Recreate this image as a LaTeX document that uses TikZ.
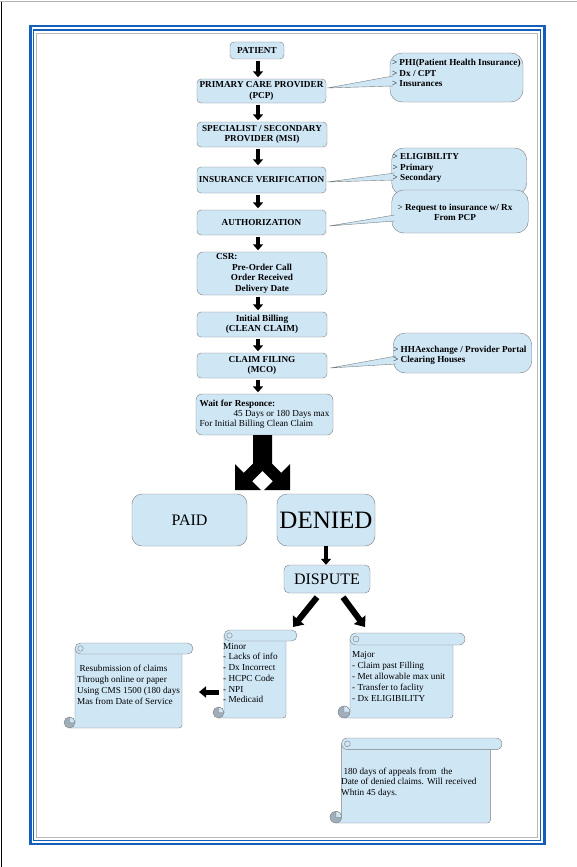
\documentclass[tikz,border=0pt]{standalone}
\usepackage{fontspec}
\setmainfont{Liberation Serif}
\usetikzlibrary{arrows.meta}

\definecolor{boxblue}{RGB}{207,230,245}
\definecolor{boxline}{RGB}{125,125,125}
\definecolor{curlgray}{RGB}{160,174,188}
\definecolor{frameblue}{RGB}{20,95,185}

%rolled sheet: x0, y0, x1, y1, half roll
\newcommand{\scrollpaper}[5]{%
	\filldraw[scrollbody] (#1+2*#5,#2+#5) -- (#3-2*#5,#2+#5) -- (#3-2*#5,#4-3) arc (0:90:3) -- (#1+#5,#4) -- (#1+#5,#4-#5) -- (#1+2*#5,#4-#5) -- cycle;
	\filldraw[scrollbody,rounded corners=#5pt] (#1+2*#5,#2) rectangle (#3,#2+2*#5);
	\draw[boxline] (#1+3*#5,#2+#5) circle (0.5*#5);
	\filldraw[scrollbody,fill=curlgray] (#1+#5,#4-#5) circle (#5);
	\draw[boxline,fill=boxblue] (#1+#5,#4-#5) -- (#1+2*#5,#4-#5) arc (0:-90:#5) -- cycle;
}

\begin{document}
\begin{tikzpicture}[x=1pt,y=-1pt,
	stepbox/.style={draw=boxline,fill=boxblue,rounded corners=4pt,inner sep=0pt,align=center,font=\fontsize{9.2}{10.5}\selectfont\bfseries},
	bigbox/.style={draw=boxline,fill=boxblue,rounded corners=10pt,inner sep=0pt},
	callbox/.style={draw=boxline,fill=boxblue,rounded corners=12pt,inner sep=0pt},
	calltext/.style={inner sep=0pt,align=left,font=\fontsize{9.2}{10.5}\selectfont\bfseries},
	calltail/.style={draw=boxline,fill=boxblue},
	scrollbody/.style={draw=boxline,fill=boxblue},
	scrolltext/.style={inner sep=0pt,align=left,font=\fontsize{9.2}{10.7}\selectfont},
	flowarrow/.style={line width=4.5pt,-{Triangle[width=10pt,length=6pt]},shorten <=1.5pt,shorten >=1.5pt},
	blockarrow/.style={line width=6pt,-{Triangle[width=14pt,length=9pt]}}]
	\useasboundingbox (0,0) rectangle (577,867);

	%page edge and frame
	\draw[gray!60,line width=1pt] (0,2)--(577,2);
	\draw[line width=1pt] (1,2)--(1,867);
	\draw[frameblue,line width=2.5pt] (30.5,26.2) rectangle (544.3,844);
	\draw[frameblue,line width=1.4pt] (33.3,30.2) rectangle (540.2,840.2);
	\draw[gray!55,line width=0.7pt] (36,33.3) rectangle (537.3,837.7);

	%main column
	\node[stepbox,minimum width=54,minimum height=17] (patient) at (257,50.5) {PATIENT};
	\node[stepbox,minimum width=129,minimum height=24] (pcp) at (261.5,91) {PRIMARY CARE PROVIDER\\(PCP)};
	\node[stepbox,minimum width=130,minimum height=25] (spec) at (262,134.5) {SPECIALIST / SECONDARY\\PROVIDER (MSI)};
	\node[stepbox,minimum width=129,minimum height=26] (insver) at (261.5,180) {INSURANCE VERIFICATION};
	\node[stepbox,minimum width=129,minimum height=25] (auth) at (261.5,222.5) {AUTHORIZATION};
	\node[stepbox,rounded corners=6pt,minimum width=130,minimum height=43] (csr) at (262,273.5) {\makebox[92pt][l]{CSR:}\\Pre-Order Call\\Order Received\\Delivery Date};
	\node[stepbox,minimum width=130,minimum height=25] (billing) at (262,324.5) {Initial Billing\\(CLEAN CLAIM)};
	\node[stepbox,minimum width=130,minimum height=25] (filing) at (262,365.5) {CLAIM FILING\\(MCO)};
	\node[stepbox,rounded corners=6pt,minimum width=137,minimum height=41,align=left,font=\fontsize{9.2}{10.2}\selectfont] (wait) at (264.5,414.5)
		{\textbf{Wait for Responce:}\\\hspace*{34pt}45 Days or 180 Days max\\For Initial Billing Clean Claim};

	\coordinate (col) at (258,0);
	\draw[flowarrow] (patient.south -| col)--(pcp.north -| col);
	\draw[flowarrow] (pcp.south -| col)--(spec.north -| col);
	\draw[flowarrow] (spec.south -| col)--(insver.north -| col);
	\draw[flowarrow] (insver.south -| col)--(auth.north -| col);
	\draw[flowarrow] (auth.south -| col)--(csr.north -| col);
	\draw[flowarrow] (csr.south -| col)--(billing.north -| col);
	\draw[flowarrow] (billing.south -| col)--(filing.north -| col);
	\draw[flowarrow] (filing.south -| col)--(wait.north -| col);

	%callouts
	\node[callbox,minimum width=133,minimum height=49] (callphi) at (456.5,77.5) {};
		\filldraw[calltail] ([xshift=3pt,yshift=1.5pt]callphi.west)--([xshift=1pt,yshift=3pt]pcp.east)--([xshift=3pt,yshift=-8.5pt]callphi.west);
		\node[calltext,anchor=north west] (phitext) at ([xshift=2pt,yshift=-6.5pt]callphi.north west)
			{\textmd{>} PHI(Patient Health Insurance)\\\textmd{>} Dx / CPT\\\textmd{>} Insurances};
	\node[callbox,minimum width=135,minimum height=47] (callelig) at (459.2,171.5) {};
		\filldraw[calltail] ([xshift=3pt,yshift=-1.5pt]callelig.west)--([xshift=1pt,yshift=-2pt]insver.east)--([xshift=3pt,yshift=-8.5pt]callelig.west);
		\node[calltext,anchor=north west] (eligtext) at ([xshift=1pt,yshift=-5.7pt]callelig.north west)
			{\textmd{>} ELIGIBILITY\\\textmd{>} Primary\\\textmd{>} Secondary};
	\node[callbox,minimum width=136.5,minimum height=43] (callreq) at (460,211.5) {};
		\filldraw[calltail] ([xshift=3pt,yshift=-3.5pt]callreq.west)--([xshift=3pt,yshift=-3.5pt]auth.east)--([xshift=3pt,yshift=-9.5pt]callreq.west);
		\node[calltext,anchor=north,align=center] (reqtext) at ([xshift=-5pt,yshift=-14pt]callreq.north)
			{\textmd{>} Request to insurance w/ Rx\\From PCP};
	\node[callbox,minimum width=138.5,minimum height=40] (callportal) at (462.5,353) {};
		\filldraw[calltail] ([xshift=3pt,yshift=-3pt]callportal.west)--([xshift=3pt,yshift=-2.5pt]filing.east)--([xshift=3pt,yshift=-11pt]callportal.west);
		\node[calltext,anchor=north west] (portaltext) at ([xshift=0pt,yshift=-13pt]callportal.north west)
			{\textmd{>} HHAexchange / Provider Portal\\\textmd{>} Clearing Houses};

	%split arrow
	\fill (253,435)--(272,435)--(272,463.6)--(281.2,472.8)--(290,464)--(290,490)--(264,490)--(272.8,481.2)
		--(262.5,470.9)--(252.2,481.2)--(261,490)--(235,490)--(235,464)--(243.8,472.8)--(253,463.6)--cycle;

	%outcome
	\node[bigbox,minimum width=115,minimum height=52,font=\fontsize{16}{16}\selectfont] (paid) at (189.5,520) {PAID};
	\node[bigbox,minimum width=98,minimum height=52,font=\fontsize{25}{25}\selectfont] (denied) at (326,520) {DENIED};
	\node[bigbox,rounded corners=5pt,minimum width=86,minimum height=28,font=\fontsize{16}{16}\selectfont] (dispute) at (327,579) {DISPUTE};
	\draw[line width=4pt,-{Triangle[width=10pt,length=6pt]}] (denied.south)--(denied.south |- dispute.north);

	\coordinate (minortip) at (293,627);
	\coordinate (majortip) at (365,627);
	\draw[blockarrow] ([xshift=-10pt,yshift=-4pt]dispute.south)--(minortip);
	\draw[blockarrow] ([xshift=16pt,yshift=-4pt]dispute.south)--(majortip);

	%scrolls
	\scrollpaper{213}{630}{297}{718}{5.5}
	\node[scrolltext,anchor=west] (minortext) at (223,673) {Minor\\- Lacks of info\\- Dx Incorrect\\- HCPC Code\\- NPI\\- Medicaid};
	\scrollpaper{64}{643}{193}{728}{5.5}
	\node[scrolltext,anchor=west,font=\fontsize{9.2}{11}\selectfont] (resubtext) at (77,685)
		{\ Resubmission of claims\\Through online or paper\\Using CMS 1500 (180 days\\Mas from Date of Service};
	\scrollpaper{338}{633}{465}{718}{6}
	\node[scrolltext,anchor=west,font=\fontsize{9.2}{11}\selectfont] (majortext) at (352,676) {Major\\- Claim past Filling\\- Met allowable max unit\\- Transfer to faclity\\- Dx ELIGIBILITY};
	\scrollpaper{330}{738}{502}{823}{5.8}
	\node[scrolltext,anchor=west] (appealtext) at (341,782.5) {\ 180 days of appeals from\ \ the\\Date of denied claims. Will received\\Whtin 45 days.};

	\coordinate (minorend) at (219,692);
	\coordinate (resubend) at (199,692);
	\draw[line width=5pt,-{Triangle[width=11pt,length=7pt]}] (minorend)--(resubend);
\end{tikzpicture}
\end{document}
